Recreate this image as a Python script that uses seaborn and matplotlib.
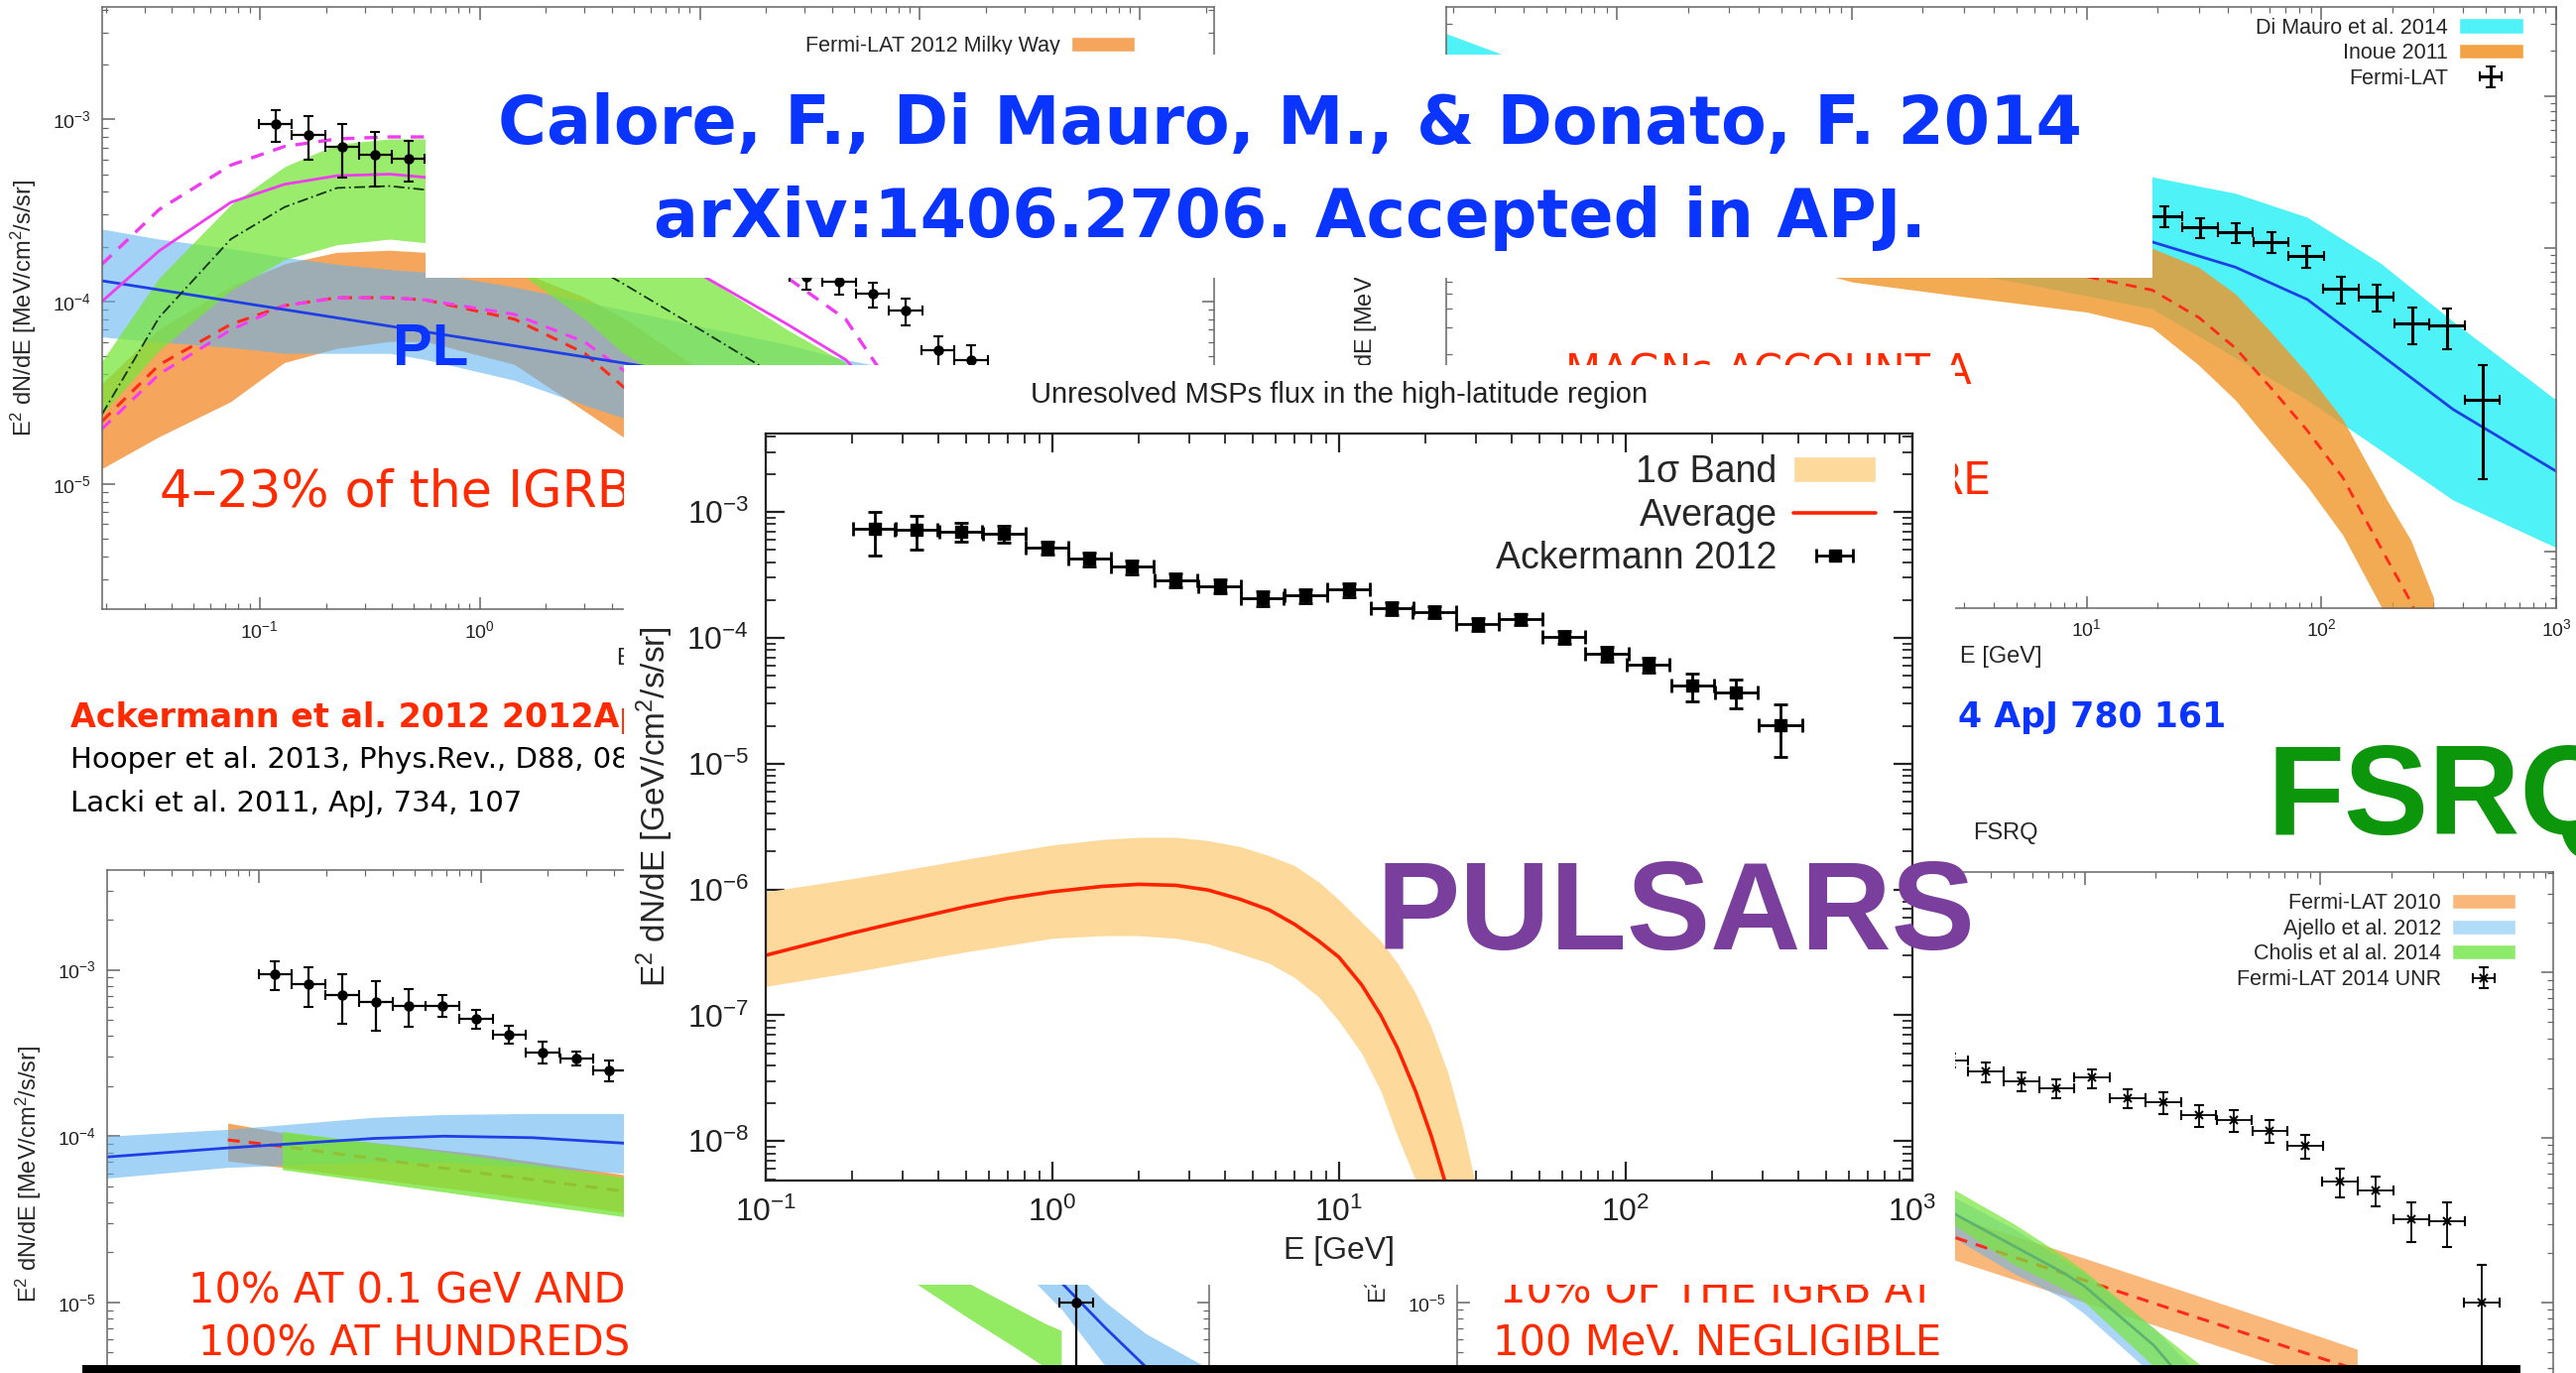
import numpy as np
import matplotlib
matplotlib.use("Agg")
import matplotlib.pyplot as plt
import seaborn as sns
from matplotlib.patches import Patch, Rectangle
from matplotlib.ticker import LogLocator, NullFormatter, LogFormatterSciNotation
from matplotlib.legend_handler import HandlerErrorbar

# ---------------- data ----------------
# Fermi-LAT IGRB points used in the four background panels
igrb_E = [0.118, 0.167, 0.237, 0.335, 0.474, 0.67, 0.95, 1.34, 1.9, 2.7, 3.8, 5.4, 7.6,
          10.7, 15.2, 21.5, 30.4, 43, 61, 86, 121, 171, 243, 343, 484]
igrb_F = [9.4e-4, 8.2e-4, 7.1e-4, 6.4e-4, 6.1e-4, 6.1e-4, 5.1e-4, 4.1e-4, 3.2e-4, 2.95e-4,
          2.5e-4, 2.2e-4, 2.0e-4, 2.3e-4, 1.73e-4, 1.63e-4, 1.37e-4, 1.28e-4, 1.1e-4, 8.9e-5,
          5.4e-5, 4.8e-5, 3.2e-5, 3.1e-5, 1.0e-5]
igrb_rel = [0.2, 0.27, 0.33, 0.33, 0.25, 0.15, 0.13, 0.12, 0.15, 0.1, 0.14, 0.13, 0.13,
            0.13, 0.13, 0.15, 0.15, 0.15, 0.16, 0.17, 0.2, 0.2, 0.27, 0.3, 0.7]

# central panel: Ackermann 2012 points
ack_E = [0.24, 0.335, 0.48, 0.68, 0.96, 1.35, 1.9, 2.7, 3.84, 5.4, 7.66, 10.8, 15.3, 21.5,
         30.5, 43, 61, 86, 120, 171, 243, 347]
ack_F = [7.3e-4, 7.2e-4, 7.0e-4, 6.7e-4, 5.2e-4, 4.25e-4, 3.67e-4, 2.88e-4, 2.59e-4, 2.07e-4,
         2.17e-4, 2.42e-4, 1.72e-4, 1.6e-4, 1.29e-4, 1.41e-4, 1.02e-4, 7.5e-5, 6.1e-5, 4.17e-5,
         3.7e-5, 2.04e-5]
ack_rel = [0.38, 0.3, 0.17, 0.15, 0.12, 0.13, 0.13, 0.13, 0.12, 0.14, 0.13, 0.13, 0.12, 0.11,
           0.12, 0.1, 0.12, 0.14, 0.14, 0.25, 0.25, 0.45]

# central panel: unresolved MSP average and 1 sigma band
msp_E = [0.1, 0.2, 0.3, 0.5, 0.7, 1.0, 1.5, 2.0, 2.7, 3.5, 4.5, 5.7, 7.0, 8.5, 10, 12, 14,
         16, 18.5, 21, 24, 27, 30]
msp_avg = [3.0e-7, 4.5e-7, 5.6e-7, 7.3e-7, 8.5e-7, 9.6e-7, 1.06e-6, 1.1e-6, 1.08e-6, 9.9e-7,
           8.4e-7, 6.9e-7, 5.3e-7, 3.9e-7, 2.9e-7, 1.75e-7, 1.0e-7, 5.5e-8, 2.5e-8, 1.1e-8,
           4e-9, 1.3e-9, 4e-10]
msp_hi = [9.6e-7, 1.22e-6, 1.42e-6, 1.74e-6, 1.98e-6, 2.26e-6, 2.5e-6, 2.6e-6, 2.6e-6,
          2.45e-6, 2.2e-6, 1.86e-6, 1.55e-6, 1.15e-6, 8.3e-7, 5.5e-7, 3.9e-7, 2.6e-7, 1.5e-7,
          8e-8, 3.5e-8, 1.3e-8, 4.5e-9]
msp_lo = [1.7e-7, 2.2e-7, 2.6e-7, 3.2e-7, 3.6e-7, 4.1e-7, 4.3e-7, 4.3e-7, 4.1e-7, 3.7e-7,
          3.1e-7, 2.6e-7, 2.0e-7, 1.4e-7, 9e-8, 5e-8, 2.5e-8, 1.1e-8, 4.9e-9, 1.8e-9, 5e-10,
          1.5e-10, 4e-11]

# top-left panel (star-forming galaxies)
tl_E = [0.0192, 0.035, 0.074, 0.13, 0.225, 0.39, 0.57, 1.44, 3.0, 4.5, 10.7, 25, 46, 100, 300, 2200]
tl_green_hi = [4.7e-5, 1.35e-4, 3.4e-4, 5.5e-4, 7.3e-4, 7.8e-4, 7.8e-4, 6.8e-4, 4.2e-4, 3.0e-4,
               1.35e-4, 7e-5, 4.6e-5, 1.8e-5, 3e-6, 1e-8]
tl_green_lo = [2.4e-5, 5.4e-5, 1.15e-4, 1.7e-4, 2.05e-4, 2.2e-4, 2.1e-4, 1.5e-4, 8e-5, 5.2e-5,
               2.8e-5, 1.4e-5, 7e-6, 3e-6, 5e-7, 1e-9]
tl_orange_hi = [3.5e-5, 7e-5, 1.2e-4, 1.6e-4, 1.85e-4, 1.9e-4, 1.85e-4, 1.5e-4, 1.05e-4, 8.1e-5,
                4e-5, 1.5e-5, 6e-6, 1.5e-6, 1e-7, 1e-10]
tl_orange_lo = [1.2e-5, 1.8e-5, 2.8e-5, 4.6e-5, 5.5e-5, 6e-5, 6e-5, 4.5e-5, 2.5e-5, 1.8e-5,
                6e-6, 1.5e-6, 4e-7, 5e-8, 1e-9, 1e-12]
tl_blue_hi = [2.5e-4, 2.2e-4, 1.95e-4, 1.75e-4, 1.6e-4, 1.5e-4, 1.45e-4, 1.2e-4, 1.0e-4, 9e-5,
              7.2e-5, 5.8e-5, 4.8e-5, 4e-5, 3e-5, 1.8e-5]
tl_blue_lo = [6.4e-5, 6.0e-5, 5.6e-5, 5.2e-5, 5.2e-5, 5.2e-5, 4.8e-5, 3.7e-5, 2.7e-5, 2.3e-5,
              1.8e-5, 1.4e-5, 1.2e-5, 9e-6, 6.5e-6, 3.5e-6]
tl_red = [2.2e-5, 4.5e-5, 7.5e-5, 9.5e-5, 1.05e-4, 1.05e-4, 1.02e-4, 8e-5, 5.2e-5, 3.4e-5,
          1.3e-5, 3.5e-6, 1.2e-6, 2e-7, 5e-9, 1e-12]
tl_mag_lo = [2.0e-5, 4.0e-5, 7.0e-5, 9.5e-5, 1.05e-4, 1.05e-4, 1.02e-4, 8.5e-5, 6e-5, 4.2e-5,
             1.8e-5, 6e-6, 2.5e-6, 6e-7, 3e-8, 1e-11]
tl_mag_mid = [1.0e-4, 1.9e-4, 3.5e-4, 4.4e-4, 4.9e-4, 5.0e-4, 4.8e-4, 4.2e-4, 3.2e-4, 2.5e-4,
              1.35e-4, 7.5e-5, 4.8e-5, 1.8e-5, 3e-6, 2e-8]
tl_mag_hi = [1.6e-4, 3.2e-4, 5.6e-4, 7.1e-4, 7.8e-4, 8.0e-4, 8.0e-4, 7.5e-4, 6.2e-4, 5.3e-4,
             3.3e-4, 1.35e-4, 8e-5, 2e-5, 3e-6, 1e-8]
tl_dashdot = [2.4e-5, 8.2e-5, 2.2e-4, 3.3e-4, 4.2e-4, 4.3e-4, 4.1e-4, 2.7e-4, 1.65e-4, 1.25e-4,
              6.7e-5, 3.6e-5, 2e-5, 8e-6, 1.5e-6, 1e-8]
pl_E = [0.0192, 4.5, 2200]
pl_F = [1.3e-4, 4.6e-5, 1.4e-5]

# top-right panel (mAGN)
tr_E = [0.0186, 0.037, 0.1, 0.3, 0.57, 1, 5, 19, 43, 87, 178, 363, 1000]
tr_cyan_hi = [2.6e-3, 1.75e-3, 1.0e-3, 6.5e-4, 5.3e-4, 4.5e-4, 3.5e-4, 2.95e-4, 2.3e-4, 1.6e-4,
              8e-5, 3.3e-5, 1e-5]
tr_cyan_lo = [1.2e-3, 7e-4, 4.5e-4, 2.2e-4, 1.35e-4, 9e-5, 6e-5, 4e-5, 1.9e-5, 1e-5, 4.7e-6,
              2.2e-6, 1.07e-6]
tr_blue = [1.75e-3, 1.1e-3, 6.7e-4, 3.8e-4, 2.7e-4, 2.0e-4, 1.45e-4, 1.1e-4, 7.5e-5, 4.6e-5,
           2e-5, 8.7e-6, 3.4e-6]
tr_or_E = [0.3, 1, 3, 10, 19, 30, 43, 61, 87, 123, 190, 240, 300]
tr_or_hi = [3e-4, 1.6e-4, 1.3e-4, 1.15e-4, 1.0e-4, 7.5e-5, 5e-5, 2.8e-5, 1.5e-5, 7.5e-6, 2.2e-6,
            1.2e-6, 5e-7]
tr_or_mid = [1.8e-4, 1e-4, 8e-5, 6.5e-5, 5.3e-5, 3.5e-5, 2.2e-5, 1.2e-5, 6.3e-6, 3.1e-6, 9e-7,
             4.7e-7, 2.1e-7]
tr_or_lo = [1e-4, 6e-5, 4.8e-5, 3.8e-5, 3.0e-5, 1.7e-5, 1e-5, 5.2e-6, 2.7e-6, 1.3e-6, 3.7e-7,
            1.9e-7, 8.5e-8]

# bottom-left panel (BL Lacs)
bl_blue_E = [0.0205, 0.072, 0.33, 0.68, 1.7, 4.3, 20, 80, 200, 320, 420, 660, 1000, 1930]
bl_blue_mid = [7.5e-5, 8.5e-5, 9.7e-5, 1.0e-4, 9.8e-5, 9.1e-5, 7.8e-5, 5.5e-5, 3e-5, 1.8e-5,
               1.3e-5, 7e-6, 4.1e-6, 1.5e-6]
bl_blue_hi = [1.0e-4, 1.1e-4, 1.3e-4, 1.35e-4, 1.37e-4, 1.37e-4, 1.3e-4, 1e-4, 6e-5, 3e-5,
              1.8e-5, 1e-5, 6.5e-6, 4e-6]
bl_blue_lo = [5.6e-5, 6.5e-5, 7e-5, 7e-5, 6.5e-5, 6e-5, 5e-5, 3.5e-5, 2e-5, 1.3e-5, 9e-6,
              4.1e-6, 1.8e-6, 5e-7]
bl_or_E = [0.072, 0.127, 1, 4.3, 20, 60]
bl_or_hi = [1.2e-4, 1.05e-4, 7.8e-5, 5.9e-5, 4.2e-5, 3e-5]
bl_or_lo = [7.1e-5, 6.5e-5, 4.6e-5, 3.5e-5, 2.3e-5, 1.6e-5]
bl_or_mid = [9.5e-5, 8.7e-5, 6e-5, 4.7e-5, 3.1e-5, 2.2e-5]
bl_green_E = [0.127, 0.5, 1, 4.3, 20, 60, 92, 160, 250, 350, 415]
bl_green_hi = [1.07e-4, 8.5e-5, 7.5e-5, 5.7e-5, 4e-5, 2.7e-5, 2.1e-5, 1.3e-5, 9.5e-6, 7.5e-6, 6.8e-6]
bl_green_lo = [6.3e-5, 4.9e-5, 4.3e-5, 3.3e-5, 2.2e-5, 1.6e-5, 1.3e-5, 8e-6, 5.5e-6, 4.1e-6, 3.6e-6]

# bottom-right panel (FSRQ)
br_E = [0.1, 0.5, 1, 2.74, 5, 8.2, 10, 19.6, 31.4, 50]
br_green_hi = [4.9e-4, 1.6e-4, 9.8e-5, 4.9e-5, 3e-5, 1.9e-5, 1.55e-5, 7e-6, 4.1e-6, 2.2e-6]
br_green_lo = [3e-4, 1e-4, 6e-5, 3e-5, 1.7e-5, 1.2e-5, 1e-5, 4.1e-6, 2e-6, 1e-6]
br_blue_hi = [4.5e-4, 1.5e-4, 9e-5, 4.4e-5, 2.8e-5, 1.8e-5, 1.5e-5, 7e-6, 3.5e-6, 1.7e-6]
br_blue_lo = [2.5e-4, 8e-5, 4.5e-5, 2.5e-5, 1.5e-5, 1.05e-5, 8.5e-6, 3.6e-6, 1.5e-6, 5e-7]
br_blue_mid = [4e-4, 1.3e-4, 7e-5, 3.5e-5, 2.2e-5, 1.5e-5, 1.25e-5, 5.5e-6, 2.5e-6, 1e-6]
br_or_E = [0.1, 1, 3, 10, 30, 100, 143]
br_or_mid = [1.2e-4, 4.1e-5, 2.4e-5, 1.36e-5, 8.1e-6, 4.6e-6, 3.9e-6]
br_or_hi = [1.6e-4, 5.5e-5, 3.2e-5, 1.85e-5, 1.1e-5, 6.2e-6, 5.2e-6]
br_or_lo = [8.8e-5, 3e-5, 1.75e-5, 1e-5, 6e-6, 3.4e-6, 2.9e-6]

# ---------------- style ----------------
sns.set_theme(style="white")
plt.rcParams["font.family"] = ["Liberation Sans", "DejaVu Sans"]
plt.rcParams["mathtext.fontset"] = "custom"
plt.rcParams["mathtext.rm"] = "Liberation Sans"
plt.rcParams["mathtext.it"] = "Liberation Sans:italic"
plt.rcParams["mathtext.bf"] = "Liberation Sans:bold"

W, H = 1568.0, 836.0  # layout units (reduced screenshot pixels)


def rect(x0, y0, x1, y1):
    return [x0 / W, 1 - y1 / H, (x1 - x0) / W, (y1 - y0) / H]


def fxy(x, y):
    return x / W, 1 - y / H


HAND = "DejaVu Sans"
RED = "#ff2a00"
BLUE_TXT = "#0a34ff"
C_ORANGE = "#f5a55c"
C_LBLUE = (100 / 255, 180 / 255, 240 / 255)
C_GREEN = (120 / 255, 230 / 255, 60 / 255)
YLAB_MEV = r"E$^2$ dN/dE [MeV/cm$^2$/s/sr]"
HALF_BIN = 10 ** 0.075


class RangeLogFormatter(LogFormatterSciNotation):
    """Only label the decades that are not hidden under other pieces of the slide."""

    def __init__(self, lo, hi):
        super().__init__()
        self.lo, self.hi = lo, hi

    def __call__(self, x, pos=None):
        if x < self.lo or x > self.hi:
            return ""
        return super().__call__(x, pos)


def log_axes(ax, xlim, ylim, size, major_len, minor_len, lw, color,
             xlab=(0, np.inf), ylab=(0, np.inf)):
    ax.set_xscale("log")
    ax.set_yscale("log")
    ax.set_xlim(*xlim)
    ax.set_ylim(*ylim)
    ax.set_facecolor("white")
    for axis, rng in ((ax.xaxis, xlab), (ax.yaxis, ylab)):
        axis.set_major_locator(LogLocator(base=10, numticks=20))
        axis.set_minor_locator(LogLocator(base=10, subs=np.arange(2, 10), numticks=20))
        axis.set_major_formatter(RangeLogFormatter(*rng))
        axis.set_minor_formatter(NullFormatter())
    ax.tick_params(which="both", direction="in", top=True, right=True, bottom=True,
                   left=True, color=color)
    ax.tick_params(which="major", length=major_len, width=lw, labelsize=size, pad=8,
                   labelcolor="#222")
    ax.tick_params(which="minor", length=minor_len, width=lw * 0.8)
    for s in ax.spines.values():
        s.set_visible(True)
        s.set_linewidth(lw)
        s.set_color(color)


def curve(ax, x, y, **kw):
    sns.lineplot(x=x, y=y, ax=ax, legend=False, **kw)


def igrb(ax, fmt="o", ms=6, lw=1.6):
    E = np.array(igrb_E)
    F = np.array(igrb_F)
    r = np.array(igrb_rel)
    return ax.errorbar(E, F, yerr=[F * r, F * r], xerr=[E - E / HALF_BIN, E * HALF_BIN - E],
                       fmt=fmt, color="black", ms=ms, elinewidth=lw, capsize=3.5,
                       capthick=lw, mew=1.5, zorder=5)


def small_legend(ax, handles, labels, anchor):
    ax.legend(handles, labels, loc="upper right", bbox_to_anchor=anchor, frameon=False,
              markerfirst=False, fontsize=15.5, handlelength=3.0, handletextpad=0.5,
              labelspacing=0.22, borderpad=0, borderaxespad=0)


NONE = (np.inf, np.inf)

fig = plt.figure(figsize=(25.97, 13.84), dpi=100, facecolor="white")

# ---------------- top-left panel ----------------
ax = fig.add_axes(rect(62, 4, 739, 371), zorder=0)
log_axes(ax, (0.0192, 2170), (2.05e-6, 4.15e-3), 14, 9, 4.5, 1.1, "#666", xlab=(0, 5))
ax.fill_between(tl_E, tl_orange_lo, tl_orange_hi, color=C_ORANGE, lw=0, zorder=1)
ax.fill_between(tl_E, tl_blue_lo, tl_blue_hi, color=C_LBLUE, alpha=0.6, lw=0, zorder=1.1)
curve(ax, tl_E, tl_red, color="#ff2a1a", lw=2.2, linestyle=(0, (4, 3)), zorder=1.2)
curve(ax, tl_E, tl_mag_lo, color="#f53cf5", lw=2.2, linestyle=(0, (4, 3)), zorder=1.2)
ax.fill_between(tl_E, tl_green_lo, tl_green_hi, color=C_GREEN, alpha=0.75, lw=0, zorder=1.3)
curve(ax, pl_E, pl_F, color="#1f3fe6", lw=2, zorder=2)
curve(ax, tl_E, tl_mag_mid, color="#f03cf0", lw=2, zorder=2)
curve(ax, tl_E, tl_mag_hi, color="#f03cf0", lw=2.4, linestyle=(0, (4, 3)), zorder=2)
curve(ax, tl_E, tl_dashdot, color="#113311", lw=1.3, linestyle=(0, (6, 2, 1, 2)), zorder=2)
igrb(ax)
small_legend(ax, [Patch(facecolor=C_ORANGE)], ["Fermi-LAT 2012 Milky Way"], (0.929, 0.952))
ax.set_ylabel(YLAB_MEV, fontsize=17, labelpad=10)
ax.set_xlabel("E [GeV]", fontsize=17, labelpad=4)

# ---------------- top-right panel ----------------
ax = fig.add_axes(rect(880, 4, 1556, 370), zorder=0)
log_axes(ax, (0.0186, 1000), (4.3e-7, 3.9e-3), 14, 9, 4.5, 1.1, "#666",
         xlab=(5, np.inf), ylab=NONE)
ax.fill_between(tr_E, tr_cyan_lo, tr_cyan_hi, color="#4ff2f6", lw=0, zorder=1)
ax.fill_between(tr_or_E, tr_or_lo, tr_or_hi, color=(240 / 255, 150 / 255, 40 / 255),
                alpha=0.8, lw=0, zorder=1.1)
curve(ax, tr_or_E, tr_or_mid, color="#ff2a1a", lw=2, linestyle=(0, (4, 3)), zorder=2)
curve(ax, tr_E, tr_blue, color="#1f3fe6", lw=2, zorder=2)
eb = igrb(ax, fmt="none", lw=2.2)
small_legend(ax, [Patch(facecolor="#4ff2f6"), Patch(facecolor="#f3a346"), eb],
             ["Di Mauro et al. 2014", "Inoue 2011", "Fermi-LAT"], (0.97, 0.982))
ax.set_ylabel(YLAB_MEV, fontsize=17, labelpad=40)
ax.set_xlabel("E [GeV]", fontsize=17, labelpad=4)

# ---------------- bottom-left panel ----------------
ax = fig.add_axes(rect(65, 530, 736, 900), zorder=0)
log_axes(ax, (0.0205, 1930), (8.8e-7, 3.96e-3), 14, 9, 4.5, 1.1, "#666",
         xlab=NONE, ylab=(5e-6, 1))
ax.fill_between(bl_or_E, bl_or_lo, bl_or_hi, color=C_ORANGE, lw=0, zorder=1)
ax.fill_between(bl_blue_E, bl_blue_lo, bl_blue_hi, color=C_LBLUE, alpha=0.6, lw=0, zorder=1.1)
curve(ax, bl_or_E, bl_or_mid, color="#ff2a1a", lw=2.2, linestyle=(0, (4, 3)), zorder=1.2)
ax.fill_between(bl_green_E, bl_green_lo, bl_green_hi, color=C_GREEN, alpha=0.8, lw=0, zorder=1.3)
curve(ax, bl_blue_E, bl_blue_mid, color="#1f3fe6", lw=2, zorder=2)
igrb(ax)
ax.set_ylabel(YLAB_MEV, fontsize=17, labelpad=10)

# ---------------- bottom-right panel ----------------
ax = fig.add_axes(rect(887, 531, 1554, 900), zorder=0)
log_axes(ax, (0.0218, 968), (8.6e-7, 4.07e-3), 14, 9, 4.5, 1.1, "#666",
         xlab=NONE, ylab=(5e-6, 2e-5))
ax.fill_between(br_or_E, br_or_lo, br_or_hi, color="#f9b77a", lw=0, zorder=1)
ax.fill_between(br_E, br_blue_lo, br_blue_hi, color=C_LBLUE, alpha=0.55, lw=0, zorder=1.1)
curve(ax, br_or_E, br_or_mid, color="#ff2a1a", lw=2.2, linestyle=(0, (4, 3)), zorder=1.2)
curve(ax, br_E, br_blue_mid, color="#1f3fe6", lw=2, zorder=1.2)
ax.fill_between(br_E, br_green_lo, br_green_hi, color=C_GREEN, alpha=0.7, lw=0, zorder=1.3)
eb = igrb(ax, fmt="x", ms=6, lw=1.3)
small_legend(ax, [Patch(facecolor="#f9b77a"), Patch(facecolor="#b0dcf8"),
                  Patch(facecolor="#8eea6a"), eb],
             ["Fermi-LAT 2010", "Ajello et al. 2012", "Cholis et al al. 2014",
              "Fermi-LAT 2014 UNR"], (0.966, 0.966))
ax.set_title("FSRQ", fontsize=17, pad=24)
ax.set_ylabel(YLAB_MEV, fontsize=17, labelpad=10)

# ---------------- slide annotations (behind the central panel) ----------------
fig.text(*fxy(262, 213), "PL", color=BLUE_TXT, fontsize=43, fontweight="bold",
         ha="center", va="center", zorder=2)
fig.text(*fxy(97, 300), "4\u201323% of the IGRB", color=RED, fontsize=36.5, family=HAND,
         ha="left", va="center", zorder=2)
fig.text(*fxy(43, 437), "Ackermann et al. 2012 2012ApJ", color=RED, fontsize=24,
         fontweight="bold", family=HAND, ha="left", va="center", zorder=2)
fig.text(*fxy(43, 463), "Hooper et al. 2013, Phys.Rev., D88, 083009", color="black",
         fontsize=21, family=HAND, ha="left", va="center", zorder=2)
fig.text(*fxy(43, 489), "Lacki et al. 2011, ApJ, 734, 107", color="black",
         fontsize=21, family=HAND, ha="left", va="center", zorder=2)
fig.text(*fxy(1200, 227), "MAGNs ACCOUNT A", color=RED, fontsize=30, family=HAND,
         ha="right", va="center", zorder=2)
fig.text(*fxy(1212, 293), "RE", color=RED, fontsize=32, family=HAND,
         ha="right", va="center", zorder=2)
fig.text(*fxy(1192, 437), "4 ApJ 780 161", color=BLUE_TXT, fontsize=25, fontweight="bold",
         family=HAND, ha="left", va="center", zorder=2)
for (x, y, s) in [(248, 786, "10% AT 0.1 GeV AND"), (252, 818, "100% AT HUNDREDS"),
                  (1045, 786, "10% OF THE IGRB AT"), (1045, 818, "100 MeV. NEGLIGIBLE")]:
    fig.text(*fxy(x, y), s, color=RED, fontsize=30, family=HAND, ha="center",
             va="center", zorder=2)

# ---------------- citation banner ----------------
fig.add_artist(Rectangle((259 / W, 1 - 169 / H), (1310 - 259) / W, (169 - 33) / H,
                         transform=fig.transFigure, facecolor="white", edgecolor="none",
                         zorder=4))
fig.text(*fxy(785, 76), "Calore, F., Di Mauro, M., & Donato, F. 2014", color=BLUE_TXT,
         fontsize=48, fontweight="bold", family=HAND, ha="center", va="center", zorder=4.5)
fig.text(*fxy(785, 133), "arXiv:1406.2706. Accepted in APJ.", color=BLUE_TXT,
         fontsize=48, fontweight="bold", family=HAND, ha="center", va="center", zorder=4.5)

# ---------------- central panel: unresolved MSPs ----------------
fig.add_artist(Rectangle((380 / W, 1 - 782 / H), (1190 - 380) / W, (782 - 222) / H,
                         transform=fig.transFigure, facecolor="white", edgecolor="none",
                         zorder=5))
axc = fig.add_axes(rect(466, 264, 1164, 718.6), zorder=6)
log_axes(axc, (0.1, 1000), (4.9e-9, 4.2e-3), 23, 14, 7, 1.6, "#222")
axc.tick_params(which="major", pad=12)
axc.fill_between(msp_E, msp_lo, msp_hi, color="#fdd99b", lw=0, zorder=1)
sns.lineplot(x=msp_E, y=msp_avg, ax=axc, color="#ff2200", lw=2.6, zorder=2, legend=False)
avg_line = axc.get_lines()[-1]
E = np.array(ack_E)
F = np.array(ack_F)
r = np.array(ack_rel)
ack = axc.errorbar(E, F, yerr=[F * r, F * r], xerr=[E - E / HALF_BIN, E * HALF_BIN - E],
                   fmt="s", color="black", ms=8, elinewidth=2, capsize=5, capthick=2,
                   zorder=5)
axc.legend([Patch(facecolor="#fdd99b"), avg_line, ack],
           ["1\u03c3 Band", "Average", "Ackermann 2012"],
           handler_map={ack: HandlerErrorbar(xerr_size=0.5, yerr_size=0.0)},
           loc="upper right", bbox_to_anchor=(0.968, 0.972), frameon=False,
           markerfirst=False, fontsize=27, handlelength=2.2, handletextpad=0.45,
           labelspacing=0.2, borderpad=0, borderaxespad=0)
axc.set_title("Unresolved MSPs flux in the high-latitude region", fontsize=21, pad=22,
              color="#222")
axc.set_xlabel("E [GeV]", fontsize=23, labelpad=6)
axc.set_ylabel(r"E$^2$ dN/dE [GeV/cm$^2$/s/sr]", fontsize=24, labelpad=8)

# ---------------- headline words on top ----------------
fig.text(*fxy(838, 558), "PULSARS", color="#7a3e9d", fontsize=91, fontweight="bold",
         ha="left", va="center", zorder=10)
fig.text(*fxy(1380, 488), "FSRQ", color="#0c960c", fontsize=92, fontweight="bold",
         ha="left", va="center", zorder=10)
fig.add_artist(Rectangle((50 / W, 0), (1534 - 50) / W, 5 / H, transform=fig.transFigure,
                         facecolor="black", edgecolor="none", zorder=10))

fig.savefig("out.png", dpi=100)
